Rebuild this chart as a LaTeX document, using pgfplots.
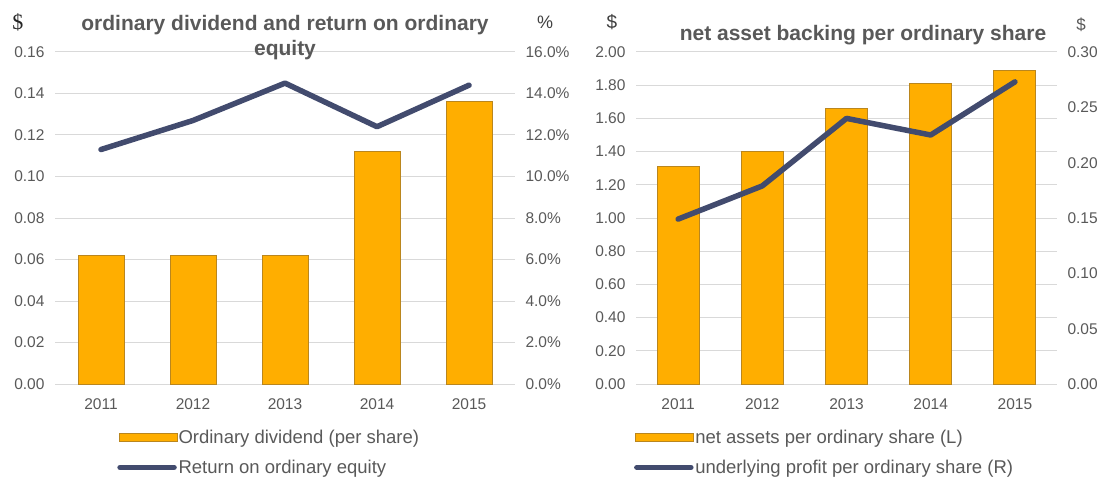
\documentclass[border=0pt]{standalone}
\usepackage{fontspec}
\setmainfont{Liberation Sans}
\newfontfamily\dollarserif{Liberation Serif}
\usepackage{pgfplots}
\pgfplotsset{compat=1.18}
\definecolor{barFill}{RGB}{255,174,0}
\definecolor{barEdge}{RGB}{186,134,30}
\definecolor{lineBlue}{RGB}{66,75,110}
\definecolor{txtGray}{RGB}{89,89,89}
\definecolor{gridGray}{RGB}{217,217,217}

\pgfplotsset{
  base/.style={
    scale only axis, height=332pt, anchor=south west,
    xmin=-0.5, xmax=4.5,
    axis line style={draw=none},
    major tick length=0pt,
    tick label style={font=\fontsize{15.5}{15.5}\selectfont, text=txtGray},
    /pgf/number format/assume math mode=true,
  },
  leftaxis/.style={
    base, ybar,
    ymajorgrids, major grid style={gridGray, line width=1pt},
    xtick={0,1,2,3,4}, xticklabels={2011,2012,2013,2014,2015},
    xticklabel style={yshift=-11pt},
    yticklabel style={xshift=-7pt, /pgf/number format/.cd, fixed, fixed zerofill, precision=2},
  },
  rightaxis/.style={
    base, axis y line*=right, axis x line=none,
    yticklabel style={xshift=7pt},
    legend cell align=left,
    legend style={draw=none, fill=none, inner sep=0pt, anchor=north west,
      font=\fontsize{18.5}{18.5}\selectfont, text=txtGray,
      row sep=13pt, nodes={inner sep=1pt}},
  },
  barlegend/.style={legend image code/.code={
    \draw[fill=barFill, draw=barEdge, line width=1pt] (2pt,-4pt) rectangle (60pt,4pt);}},
  linestyle/.style={lineBlue, line width=5.5pt, line join=round, line cap=round,
    legend image code/.code={\draw[##1] (3pt,0pt) -- (57pt,0pt);}},
}

\begin{document}
\begin{tikzpicture}[x=1pt, y=1pt]

% left chart
\begin{axis}[leftaxis, at={(55pt,93pt)}, width=460pt, bar width=46pt,
  ymin=0, ymax=0.16, ytick={0,0.02,0.04,0.06,0.08,0.10,0.12,0.14,0.16}]
\addplot[fill=barFill, draw=barEdge, line width=1pt] coordinates {(0,0.062) (1,0.062) (2,0.062) (3,0.112) (4,0.136)};
\end{axis}
\begin{axis}[rightaxis, at={(55pt,93pt)}, width=460pt,
  ymin=0, ymax=16, ytick={0,2,4,6,8,10,12,14,16},
  yticklabel={\pgfmathprintnumber[fixed,fixed zerofill,precision=1]{\tick}\%},
  legend style={at={(0.135,-0.135)}}]
\addlegendimage{barlegend}
\addlegendentry{Ordinary dividend (per share)}
\addplot[linestyle] coordinates {(0,11.3) (1,12.7) (2,14.5) (3,12.4) (4,14.4)};
\addlegendentry{Return on ordinary equity}
\end{axis}

% right chart
\begin{axis}[leftaxis, at={(636pt,93pt)}, width=421pt, bar width=42pt,
  ymin=0, ymax=2, ytick={0,0.2,0.4,0.6,0.8,1.0,1.2,1.4,1.6,1.8,2.0}]
\addplot[fill=barFill, draw=barEdge, line width=1pt] coordinates {(0,1.31) (1,1.40) (2,1.66) (3,1.81) (4,1.89)};
\end{axis}
\begin{axis}[rightaxis, at={(636pt,93pt)}, width=421pt,
  ymin=0, ymax=0.30, ytick={0,0.05,0.10,0.15,0.20,0.25,0.30},
  yticklabel style={/pgf/number format/.cd, fixed, fixed zerofill, precision=2},
  legend style={at={(-0.005,-0.135)}}]
\addlegendimage{barlegend}
\addlegendentry{net assets per ordinary share (L)}
\addplot[linestyle] coordinates {(0,0.149) (1,0.179) (2,0.240) (3,0.225) (4,0.273)};
\addlegendentry{underlying profit per ordinary share (R)}
\end{axis}

% titles and unit labels
\node[font=\bfseries\fontsize{21}{25}\selectfont, text=txtGray, align=center] at (285,439)
  {ordinary dividend and return on ordinary\\equity};
\node[font=\bfseries\fontsize{21}{23}\selectfont, text=txtGray] at (863,442)
  {net asset backing per ordinary share};
\node[font=\dollarserif\fontsize{22}{22}\selectfont, text=black!85] at (18,455) {\$};
\node[font=\fontsize{18}{18}\selectfont, text=black!75] at (545,455) {\%};
\node[font=\fontsize{19}{19}\selectfont, text=black!75] at (612,455) {\$};
\node[font=\fontsize{17}{17}\selectfont, text=txtGray] at (1081,452) {\$};

\pgfresetboundingbox
\useasboundingbox (0,0) rectangle (1102,477);
\end{tikzpicture}
\end{document}
